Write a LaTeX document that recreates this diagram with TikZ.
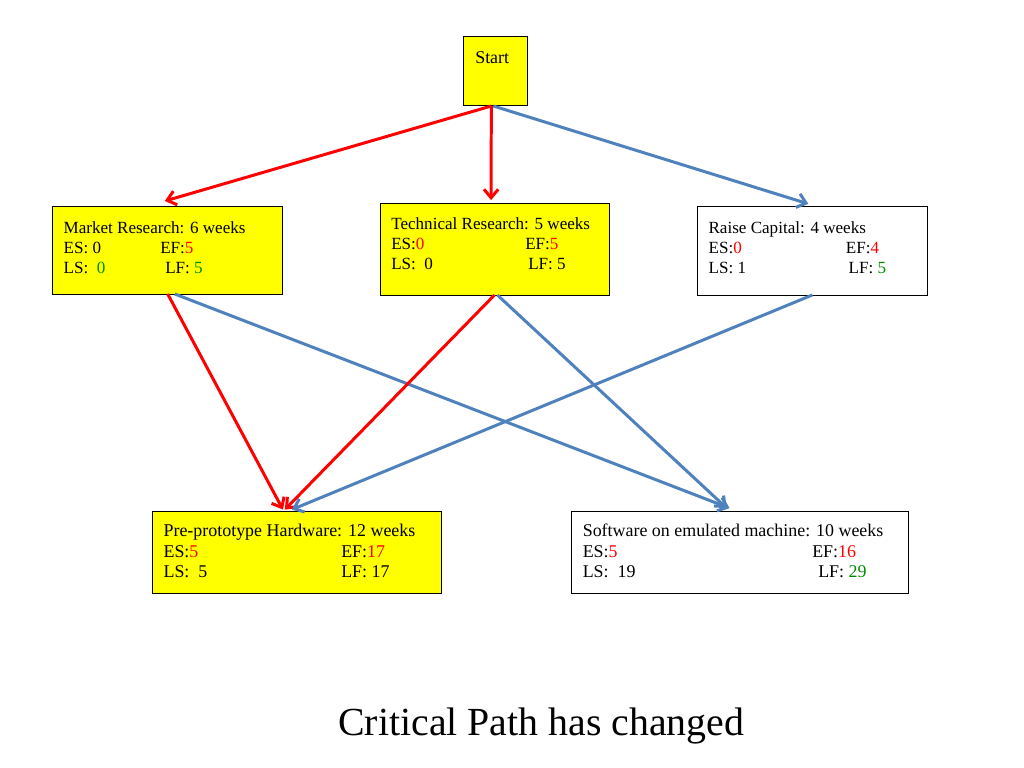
\documentclass[tikz,border=0pt]{standalone}
\usepackage{fontspec}
\setmainfont{Liberation Serif}
\usetikzlibrary{arrows.meta}
\definecolor{boxyellow}{RGB}{255,255,0}
\definecolor{arrred}{RGB}{255,0,0}
\definecolor{arrblue}{RGB}{79,129,189}
\definecolor{vgreen}{RGB}{0,140,0}
\definecolor{vred}{RGB}{255,0,0}
\begin{document}
\begin{tikzpicture}[x=0.703125pt,y=-0.703125pt,
  box/.style={draw=black, line width=0.7pt, inner sep=0pt, outer sep=0pt, anchor=north west},
  ybox/.style={box, fill=boxyellow},
  txt/.style={anchor=base west, inner sep=0pt, font=\fontsize{12}{14}\selectfont},
  ctxt/.style={txt, font=\fontsize{12.6}{15}\selectfont},
  redarr/.style={draw=arrred, line width=2.1pt, -{Straight Barb[length=6pt,width=10pt]}},
  bluearr/.style={draw=arrblue, line width=2.1pt, -{Straight Barb[length=6pt,width=10pt]}}]
\fill[white] (0,0) rectangle (1024,768);
\useasboundingbox (0,0) rectangle (1024,768);

% boxes
\node[ybox, minimum width=64*0.703125pt, minimum height=69.3*0.703125pt] (start) at (463.3,36.7) {};
\node[ybox, minimum width=230*0.703125pt, minimum height=87.3*0.703125pt] (mr) at (52.7,206.7) {};
\node[ybox, minimum width=229*0.703125pt, minimum height=92*0.703125pt] (tr) at (380,203) {};
\node[box, fill=white, minimum width=230*0.703125pt, minimum height=88.3*0.703125pt] (rc) at (697.3,206.7) {};
\node[ybox, minimum width=288.3*0.703125pt, minimum height=82*0.703125pt] (pp) at (152.7,511) {};
\node[box, fill=white, minimum width=337*0.703125pt, minimum height=82*0.703125pt] (sw) at (571,511) {};

% texts
\node[ctxt] (tstart) at (475,63.3) {Start};

\node[txt] (mr1) at (63.3,233.3) {Market Research: 6 weeks};
\node[txt] (mr2) at (63.3,253.3) {ES: 0};
\node[txt] (mr3) at (160,253.3) {EF:\textcolor{vred}{5}};
\node[txt] (mr4) at (63.3,273.3) {LS:\ \ \textcolor{vgreen}{0}};
\node[txt] (mr5) at (165,273.3) {LF: \textcolor{vgreen}{5}};

\node[txt] (tr1) at (391,230) {Technical Research: 5 weeks};
\node[txt] (tr2) at (391,250) {ES:\textcolor{vred}{0}};
\node[txt] (tr3) at (525,250) {EF:\textcolor{vred}{5}};
\node[txt] (tr4) at (391,270) {LS:\ \ 0};
\node[txt] (tr5) at (528,270) {LF: 5};

\node[txt] (rc1) at (708.3,233.3) {Raise Capital: 4 weeks};
\node[txt] (rc2) at (708.3,253.3) {ES:\textcolor{vred}{0}};
\node[txt] (rc3) at (845.7,253.3) {EF:\textcolor{vred}{4}};
\node[txt] (rc4) at (708.3,273.3) {LS: 1};
\node[txt] (rc5) at (848.3,273.3) {LF: \textcolor{vgreen}{5}};

\node[ctxt] (pp1) at (163.3,536.7) {Pre-prototype Hardware: 12 weeks};
\node[ctxt] (pp2) at (163.3,557.7) {ES:\textcolor{vred}{5}};
\node[ctxt] (pp3) at (341,557.7) {EF:\textcolor{vred}{17}};
\node[ctxt] (pp4) at (163.3,577.7) {LS:\ \ 5};
\node[ctxt] (pp5) at (341,577.7) {LF: 17};

\node[ctxt] (sw1) at (582.5,536.7) {Software on emulated machine: 10 weeks};
\node[ctxt] (sw2) at (582.5,557.7) {ES:\textcolor{vred}{5}};
\node[ctxt] (sw3) at (812,557.7) {EF:\textcolor{vred}{16}};
\node[ctxt] (sw4) at (582.5,577.7) {LS:\ \ 19};
\node[ctxt] (sw5) at (818,577.7) {LF: \textcolor{vgreen}{29}};

\node[anchor=base west, inner sep=0pt, font=\fontsize{28}{32}\selectfont] (title) at (338,735) {Critical Path has changed};

% connectors
\draw[redarr] ([xshift=-2.8pt]start.south) -- ([xshift=-2pt,yshift=4pt]mr.north);
\draw[redarr] ([xshift=-2.8pt]start.south) -- ([xshift=-2.4pt,yshift=2pt]tr.north);
\draw[bluearr] ([xshift=-1.4pt]start.south) -- ([xshift=-2.8pt,yshift=2pt]rc.north);
\draw[redarr] (mr.south) -- ([xshift=-9.8pt,yshift=1pt]pp.north);
\draw[bluearr] ([xshift=5pt]mr.south) -- ([xshift=-7pt,yshift=2pt]sw.north);
\draw[redarr] (tr.south) -- ([xshift=-8.4pt,yshift=1pt]pp.north);
\draw[bluearr] ([xshift=2pt]tr.south) -- ([xshift=-9pt,yshift=2pt]sw.north);
\draw[bluearr] (rc.south) -- ([xshift=-3.5pt,yshift=1pt]pp.north);
\end{tikzpicture}
\end{document}
